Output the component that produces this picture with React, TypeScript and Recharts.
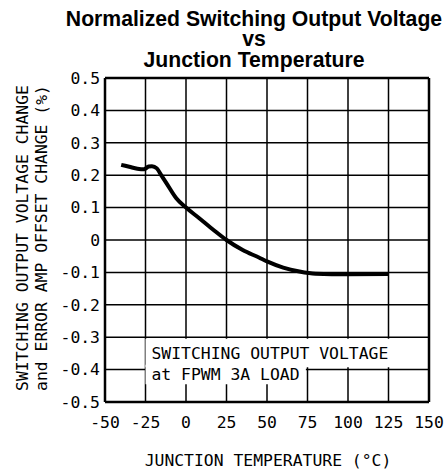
import { LineChart, Line, XAxis, YAxis, CartesianGrid, ReferenceArea, ReferenceLine } from 'recharts';

// junction temperature (°C) and normalized output voltage change (%)
const temps = [-40, -35, -30, -26, -23, -21, -18, -15, -12, -6, 0, 8, 17, 25, 35, 45, 50, 60, 70, 80, 100, 125];
const change = [0.232, 0.226, 0.22, 0.218, 0.227, 0.228, 0.221, 0.198, 0.175, 0.129, 0.1, 0.068, 0.031, 0.0, -0.031, -0.054, -0.066, -0.085, -0.097, -0.104, -0.106, -0.105];

const xTicks = [-50, -25, 0, 25, 50, 75, 100, 125, 150];
const yTicks = [0.5, 0.4, 0.3, 0.2, 0.1, 0, -0.1, -0.2, -0.3, -0.4, -0.5];

const titleLines = ['Normalized Switching Output Voltage', 'vs', 'Junction Temperature'];
const yLabelLines = ['SWITCHING OUTPUT VOLTAGE CHANGE', 'and ERROR AMP OFFSET CHANGE (%)'];
const xLabel = 'JUNCTION TEMPERATURE (°C)';
const noteLines = ['SWITCHING OUTPUT VOLTAGE', 'at FPWM 3A LOAD'];

const data = temps.map((t, i) => ({ t, v: change[i] }));

const mono = '"DejaVu Sans Mono", monospace';
const fs = 16.4;

const fmtY = (v: number) => (v === 0 ? '0' : v.toFixed(1));

export default function App() {
  return (
    <div style={{ position: 'absolute', left: 0, top: 0, width: 447, height: 472, background: '#fff' }}>
      <LineChart width={447} height={472} data={data} margin={{ top: 78, right: 18, bottom: 40, left: 60 }}>
        <CartesianGrid stroke="#000" strokeWidth={1.5} strokeOpacity={1} />
        <XAxis
          dataKey="t"
          type="number"
          domain={[-50, 150]}
          ticks={xTicks}
          height={30}
          tickLine={false}
          tickSize={0}
          tickMargin={14}
          axisLine={{ stroke: '#000', strokeWidth: 2.5 }}
          tick={{ fill: '#000', fontFamily: mono, fontSize: fs }}
        />
        <YAxis
          type="number"
          domain={[-0.5, 0.5]}
          ticks={yTicks}
          width={45}
          tickLine={false}
          tickSize={0}
          tickMargin={5}
          tickFormatter={fmtY}
          axisLine={{ stroke: '#000', strokeWidth: 2.5 }}
          tick={{ fill: '#000', fontFamily: mono, fontSize: fs }}
        />
        <ReferenceLine y={0.5} stroke="#000" strokeWidth={2.5} />
        <ReferenceLine x={150} stroke="#000" strokeWidth={2.5} />
        <ReferenceArea
          x1={-25}
          x2={127}
          y1={-0.393}
          y2={-0.305}
          fill="#fff"
          fillOpacity={1}
          stroke="none"
          label={{ value: noteLines[0], position: 'insideLeft', offset: 6, fill: '#000', fontFamily: mono, fontSize: fs }}
        />
        <ReferenceArea
          x1={-25}
          x2={74}
          y1={-0.445}
          y2={-0.385}
          fill="#fff"
          fillOpacity={1}
          stroke="none"
          label={{ value: noteLines[1], position: 'insideLeft', offset: 6, fill: '#000', fontFamily: mono, fontSize: fs }}
        />
        <Line type="monotone" dataKey="v" stroke="#000" strokeWidth={4} dot={false} isAnimationActive={false} />
      </LineChart>
      <svg width={447} height={472} style={{ position: 'absolute', left: 0, top: 0, pointerEvents: 'none' }}>
        {titleLines.map((s, i) => (
          <text
            key={s}
            x={254}
            y={26 + i * 20.4}
            textAnchor="middle"
            fontFamily='"Liberation Sans", Arial, sans-serif'
            fontWeight="bold"
            fontSize={21.2}
            fill="#000"
          >
            {s}
          </text>
        ))}
        {yLabelLines.map((s, i) => (
          <text
            key={s}
            transform={`translate(${28 + i * 18.5}, 238) rotate(-90)`}
            textAnchor="middle"
            fontFamily={mono}
            fontSize={fs}
            fill="#000"
          >
            {s}
          </text>
        ))}
        <text x={268} y={466} textAnchor="middle" fontFamily={mono} fontSize={fs} fill="#000">
          {xLabel}
        </text>
      </svg>
    </div>
  );
}
